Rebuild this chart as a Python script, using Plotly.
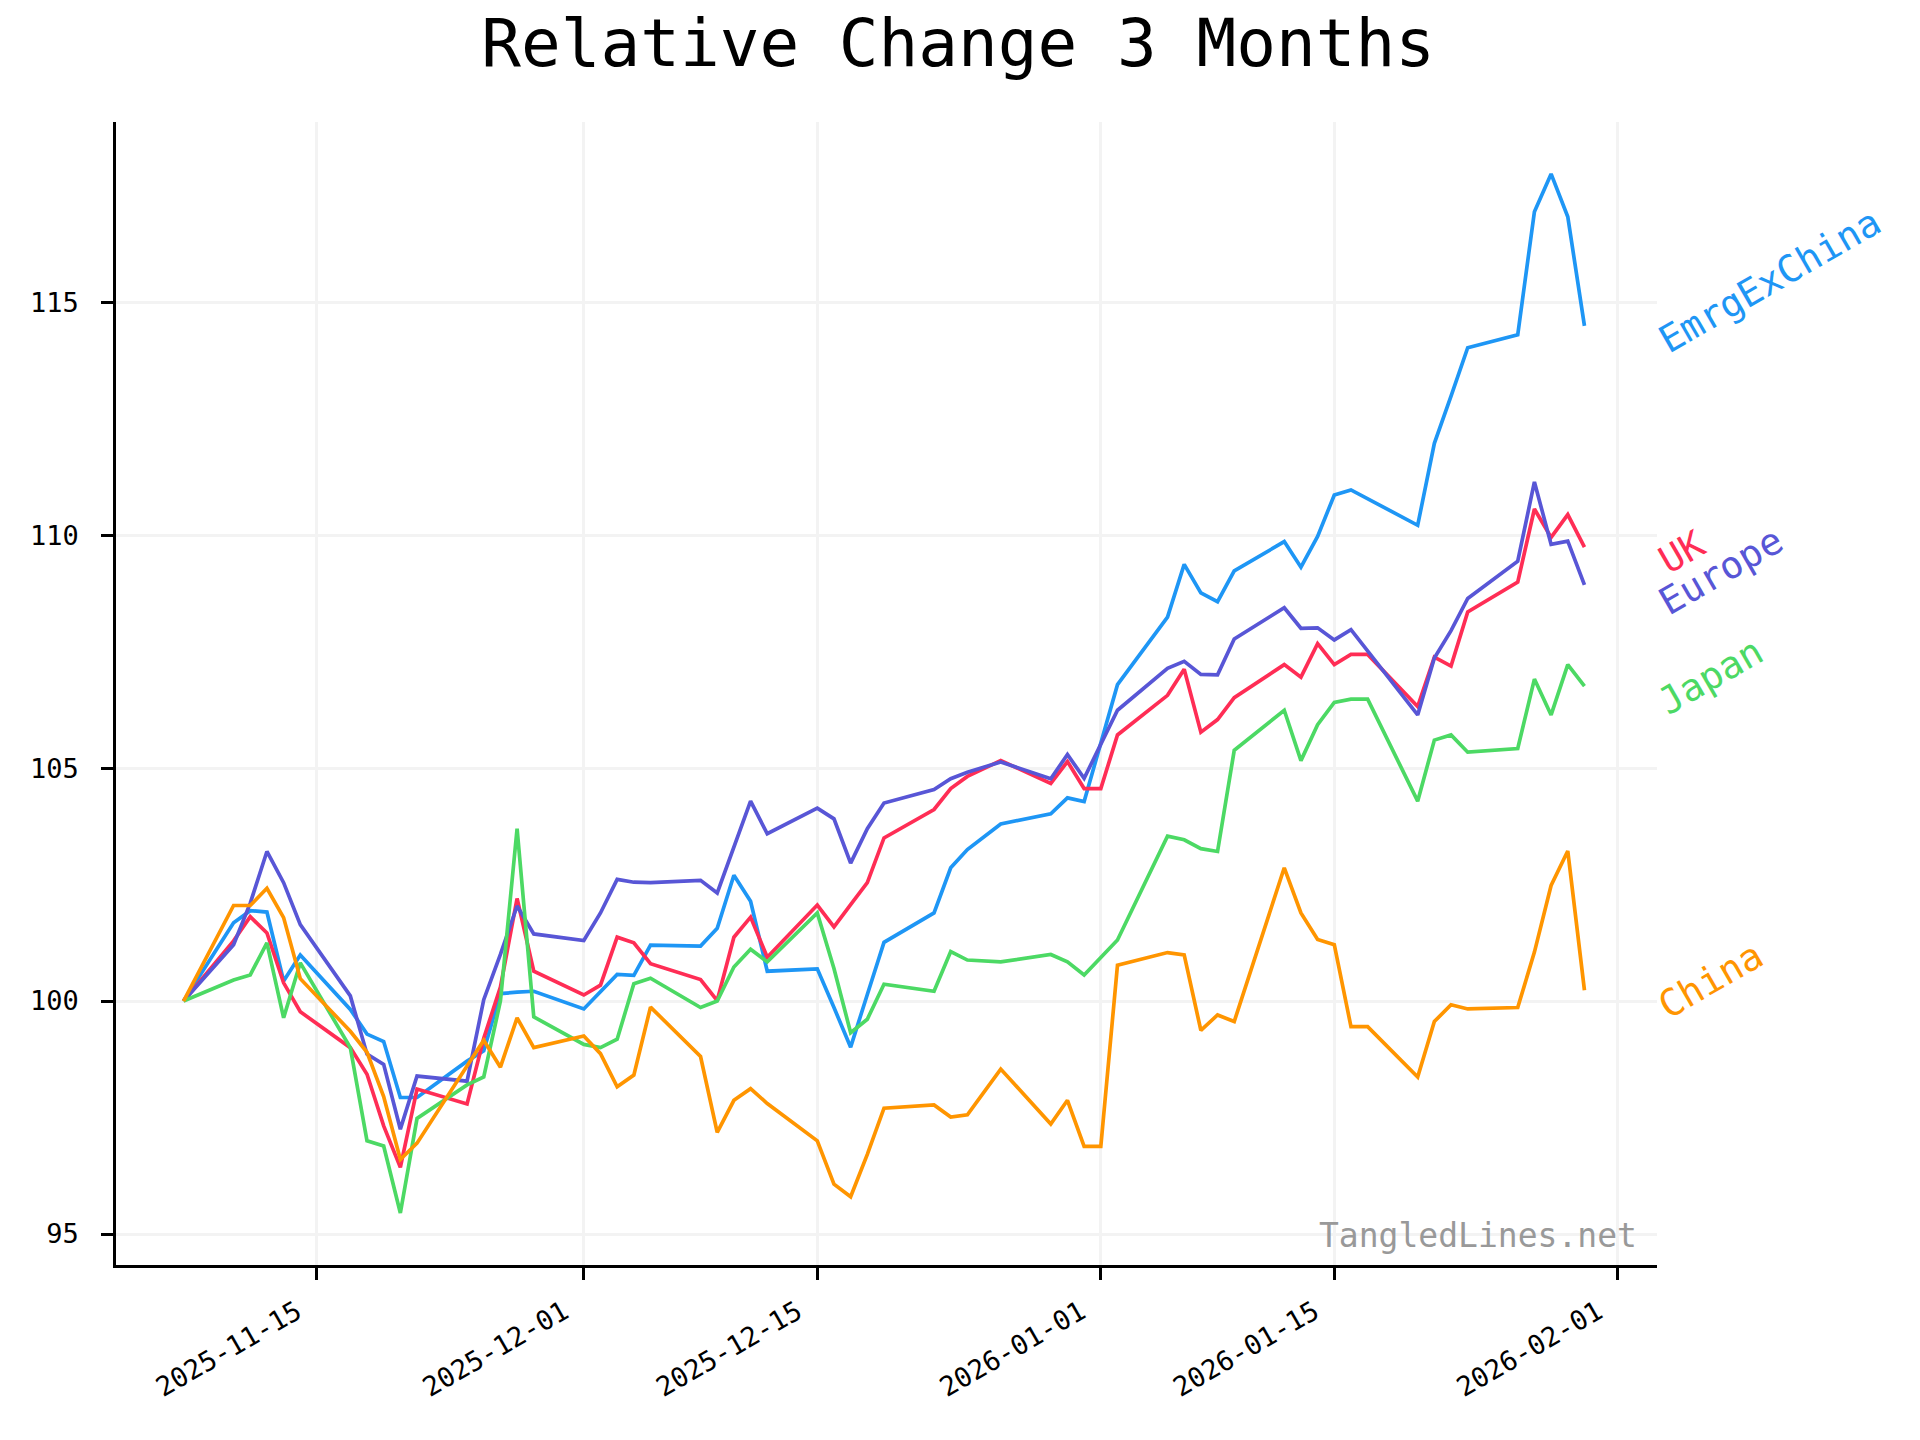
import math
import plotly.graph_objects as go
from datetime import datetime, timedelta

# ---------------- data ----------------
dates = [
    "2025-11-07", "2025-11-10", "2025-11-11", "2025-11-12", "2025-11-13", "2025-11-14",
    "2025-11-17", "2025-11-18", "2025-11-19", "2025-11-20", "2025-11-21",
    "2025-11-24", "2025-11-25", "2025-11-26", "2025-11-27", "2025-11-28",
    "2025-12-01", "2025-12-02", "2025-12-03", "2025-12-04", "2025-12-05",
    "2025-12-08", "2025-12-09", "2025-12-10", "2025-12-11", "2025-12-12",
    "2025-12-15", "2025-12-16", "2025-12-17", "2025-12-18", "2025-12-19",
    "2025-12-22", "2025-12-23", "2025-12-24", "2025-12-26",
    "2025-12-29", "2025-12-30", "2025-12-31", "2026-01-01", "2026-01-02",
    "2026-01-05", "2026-01-06", "2026-01-07", "2026-01-08", "2026-01-09",
    "2026-01-12", "2026-01-13", "2026-01-14", "2026-01-15", "2026-01-16", "2026-01-17",
    "2026-01-20", "2026-01-21", "2026-01-22", "2026-01-23",
    "2026-01-26", "2026-01-27", "2026-01-28", "2026-01-29", "2026-01-30",
]

emrg_ex_china = [
    100.0, 101.68, 101.94, 101.91, 100.43, 100.99,
    99.82, 99.29, 99.13, 97.93, 97.93,
    98.71, 98.93, 100.16, 100.19, 100.21,
    99.83, 100.21, 100.57, 100.55, 101.2,
    101.18, 101.56, 102.7, 102.14, 100.64,
    100.69, 99.86, 99.01, 100.14, 101.26,
    101.89, 102.86, 103.25, 103.8,
    104.02, 104.36, 104.28, None, 106.79,
    108.24, 109.37, 108.76, 108.57, 109.23,
    109.86, 109.31, 109.97, 110.86, 110.97, None,
    110.21, 111.97, 112.98, 114.02,
    114.3, 116.94, 117.75, 116.83, 114.49,
]

uk = [
    100.0, 101.29, 101.81, 101.46, 100.39, 99.77,
    99.0, 98.43, 97.32, 96.43, 98.11,
    97.79, 99.2, 100.3, 102.2, 100.64,
    100.13, 100.34, 101.37, 101.25, 100.8,
    100.46, 100.01, 101.37, 101.8, 100.94,
    102.06, 101.59, 102.07, 102.54, 103.5,
    104.11, 104.56, 104.82, 105.16,
    104.67, 105.14, 104.56, 104.56, 105.71,
    106.56, 107.12, 105.77, 106.04, 106.51,
    107.22, 106.95, 107.67, 107.22, 107.44, 107.44,
    106.32, 107.38, 107.19, 108.35,
    108.99, 110.56, 109.95, 110.44, 109.74,
]

europe = [
    100.0, 101.21, 102.1, 103.21, 102.54, 101.64,
    100.11, 98.86, 98.64, 97.25, 98.39,
    98.28, 100.03, 101.0, 102.04, 101.44,
    101.3, 101.89, 102.61, 102.55, 102.54,
    102.59, 102.32, 103.32, 104.29, 103.59,
    104.14, 103.91, 102.96, 103.7, 104.25,
    104.54, 104.77, 104.91, 105.13,
    104.77, 105.29, 104.78, None, 106.24,
    107.14, 107.29, 107.01, 107.0, 107.77,
    108.44, 108.0, 108.01, 107.75, 107.97, None,
    106.14, 107.36, 107.95, 108.64,
    109.44, 111.14, 109.8, 109.87, 108.93,
]

japan = [
    100.0, 100.45, 100.56, 101.25, 99.64, 100.82,
    99.0, 97.0, 96.89, 95.45, 97.48,
    98.2, 98.37, 100.0, 103.7, 99.66,
    99.07, 99.0, 99.18, 100.37, 100.49,
    99.86, 100.0, 100.73, 101.11, 100.84,
    101.89, 100.7, 99.32, 99.61, 100.36,
    100.21, 101.06, 100.88, 100.84,
    101.0, 100.84, 100.56, None, 101.31,
    103.54, 103.46, 103.27, 103.21, 105.38,
    106.24, 105.16, 105.93, 106.41, 106.48, 106.48,
    104.29, 105.6, 105.71, 105.34,
    105.42, 106.91, 106.14, 107.22, 106.76,
]

china = [
    100.0, 102.05, 102.05, 102.42, 101.79, 100.48,
    99.35, 98.9, 97.95, 96.6, 96.95,
    98.6, 99.16, 98.58, 99.64, 99.0,
    99.25, 98.87, 98.16, 98.41, 99.87,
    98.81, 97.18, 97.87, 98.12, 97.8,
    97.0, 96.07, 95.8, 96.71, 97.7,
    97.77, 97.51, 97.56, 98.54,
    97.36, 97.87, 96.88, 96.88, 100.77,
    101.04, 100.99, 99.37, 99.7, 99.56,
    102.86, 101.89, 101.32, 101.21, 99.45, 99.45,
    98.37, 99.56, 99.92, 99.83,
    99.86, 101.05, 102.48, 103.22, 100.23,
]

series_names = ["EmrgExChina", "UK", "Europe", "Japan", "China"]
series_values = [emrg_ex_china, uk, europe, japan, china]
series_colors = ["#1E96F5", "#FF2D55", "#5856D6", "#4CD964", "#FF9500"]

x_tick_dates = ["2025-11-15", "2025-12-01", "2025-12-15", "2026-01-01", "2026-01-15", "2026-02-01"]
y_tick_values = [95, 100, 105, 110, 115]

title_text = "Relative Change 3 Months"
watermark_text = "TangledLines.net"

# ---------------- figure ----------------
FONT = "DejaVu Sans Mono"
W, H = 1920, 1440
ML, MR, MT, MB = 116, 263, 122, 175

fig = go.Figure()
for name, vals, col in zip(series_names, series_values, series_colors):
    fig.add_trace(go.Scatter(
        x=dates, y=vals, mode="lines", name=name,
        line=dict(color=col, width=3.7),
        connectgaps=True, showlegend=False,
    ))

# axis ranges with ~5% padding (matplotlib-like)
d0 = datetime.fromisoformat(dates[0])
d1 = datetime.fromisoformat(dates[-1])
pad = (d1 - d0) * 0.05
nudge = timedelta(hours=3.6)
all_vals = [v for s in series_values for v in s if v is not None]
vmin, vmax = min(all_vals), max(all_vals)
vpad = (vmax - vmin) * 0.05

fig.update_xaxes(
    range=[(d0 - pad + nudge).isoformat(), (d1 + pad + nudge).isoformat()],
    tickvals=x_tick_dates, tickformat="%Y-%m-%d", tickangle=-30,
    showgrid=True, gridcolor="#f3f3f3", gridwidth=2.5,
    showline=True, linecolor="black", linewidth=2.5,
    ticks="outside", ticklen=12, tickwidth=2.5, tickcolor="black",
    tickfont=dict(family=FONT, size=27, color="black"),
    ticklabelshift=-20, ticklabelstandoff=6,
    zeroline=False,
)
fig.update_yaxes(
    range=[vmin - vpad, vmax + vpad],
    tickvals=y_tick_values,
    showgrid=True, gridcolor="#f3f3f3", gridwidth=2.5,
    showline=True, linecolor="black", linewidth=2.5,
    ticks="outside", ticklen=12, tickwidth=2.5, tickcolor="black",
    tickfont=dict(family=FONT, size=27, color="black"),
    ticklabelstandoff=17,
    zeroline=False,
)

# end-of-line labels, rotated 30 degrees, separated when close
LABEL_SIZE = 37.5
last_vals = [s[-1] for s in series_values]
order = sorted(range(len(series_names)), key=lambda i: -last_vals[i])
ylab = {i: last_vals[i] - 0.38 for i in order}
gap = 0.9
for a, b in zip(order[:-1], order[1:]):
    if ylab[a] - ylab[b] < gap:
        mid = (ylab[a] + ylab[b]) / 2
        ylab[a] = mid + gap / 2
        ylab[b] = mid - gap / 2

for i in order:
    L = len(series_names[i]) * 0.602 * LABEL_SIZE
    fig.add_annotation(
        x=1.0, xref="paper", y=ylab[i], yref="y",
        text=series_names[i], showarrow=False, textangle=-30,
        xanchor="center", yanchor="middle",
        xshift=5 + (L / 2) * math.cos(math.radians(30)),
        yshift=(L / 2) * math.sin(math.radians(30)),
        font=dict(family=FONT, size=LABEL_SIZE, color=series_colors[i]),
    )

fig.add_annotation(
    x=0.988, y=0.026, xref="paper", yref="paper",
    text=watermark_text, showarrow=False,
    xanchor="right", yanchor="middle",
    font=dict(family=FONT, size=33, color="#999999"),
)

fig.update_layout(
    width=W, height=H,
    margin=dict(l=ML, r=MR, t=MT, b=MB),
    paper_bgcolor="white", plot_bgcolor="white",
    title=dict(text=title_text, x=0.499, xanchor="center", y=1 - 43 / H,
               yanchor="middle", yref="container",
               font=dict(family=FONT, size=66, color="black")),
)

fig.write_html("out.html", config={"displayModeBar": False},
               post_script="document.body.style.margin='0px';")
